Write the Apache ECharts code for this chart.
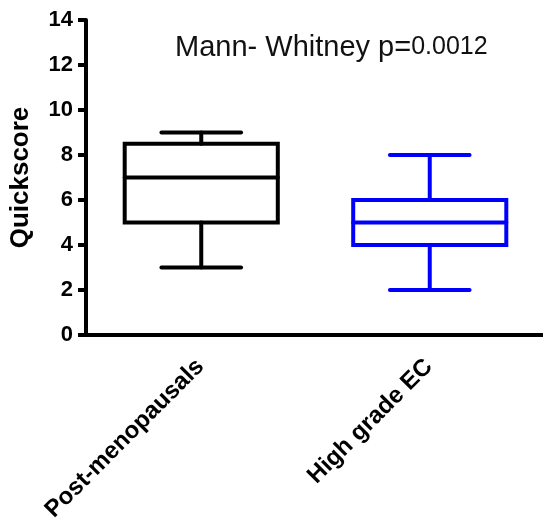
<!DOCTYPE html>
<html>
<head>
    <meta charset="utf-8">
    <title>Quickscore boxplot</title>
    <script src="https://cdn.jsdelivr.net/npm/echarts@6/dist/echarts.min.js"></script>
</head>
<body style="margin:0;background:#fff;">
    <div id="main" style="width: 543px;height:522px;"></div>
    <script type="text/javascript">
        // groups and five-number summaries
        var categories = ['Post-menopausals', 'High grade EC'];
        var boxMin    = [3, 2];
        var boxQ1     = [5, 4];
        var boxMedian = [7, 5];
        var boxQ3     = [8.5, 6];
        var boxMax    = [9, 8];
        var boxColors = ['#000000', '#0000ff'];

        var yTicks = [0, 2, 4, 6, 8, 10, 12, 14];

        var boxData = [];
        for (var i = 0; i < categories.length; i++) {
            boxData.push([i, boxMin[i], boxQ1[i], boxMedian[i], boxQ3[i], boxMax[i]]);
        }

        // box with short whisker caps (like GraphPad)
        function renderBox(params, api) {
            var idx = api.value(0);
            var lo = api.coord([idx, api.value(1)]);
            var q1 = api.coord([idx, api.value(2)]);
            var med = api.coord([idx, api.value(3)]);
            var q3 = api.coord([idx, api.value(4)]);
            var hi = api.coord([idx, api.value(5)]);
            var bw = api.size([1, 0])[0] * 0.67;
            var cw = bw * 0.52;
            var cx = lo[0] + 1;
            var st = { stroke: boxColors[idx], lineWidth: 4, fill: null, lineCap: 'round' };
            return {
                type: 'group',
                children: [
                    { type: 'rect', shape: { x: cx - bw / 2, y: q3[1], width: bw, height: q1[1] - q3[1] }, style: { stroke: boxColors[idx], lineWidth: 4, fill: null } },
                    { type: 'line', shape: { x1: cx - bw / 2, y1: med[1], x2: cx + bw / 2, y2: med[1] }, style: st },
                    { type: 'line', shape: { x1: cx, y1: q3[1], x2: cx, y2: hi[1] }, style: st },
                    { type: 'line', shape: { x1: cx, y1: q1[1], x2: cx, y2: lo[1] }, style: st },
                    { type: 'line', shape: { x1: cx - cw / 2, y1: hi[1], x2: cx + cw / 2, y2: hi[1] }, style: st },
                    { type: 'line', shape: { x1: cx - cw / 2, y1: lo[1], x2: cx + cw / 2, y2: lo[1] }, style: st }
                ]
            };
        }

        var option = {
            animation: false,
            backgroundColor: '#ffffff',
            title: {
                text: '{a|Mann- Whitney p=}{b|0.0012}',
                left: 170,
                top: 28,
                textStyle: {
                    fontWeight: 'normal',
                    rich: {
                        a: { fontFamily: 'Liberation Sans', fontWeight: 'normal', fontSize: 29, color: '#111' },
                        b: { fontFamily: 'Liberation Sans', fontWeight: 'normal', fontSize: 25, color: '#111' }
                    }
                }
            },
            grid: {
                left: 86,
                right: 0,
                top: 20,
                bottom: 187,
                containLabel: false,
                outerBoundsMode: 'none'
            },
            xAxis: {
                type: 'category',
                data: categories,
                boundaryGap: true,
                axisLine: { lineStyle: { color: '#000', width: 4 } },
                axisTick: { alignWithLabel: true, length: 10, lineStyle: { color: '#000', width: 4 } },
                axisLabel: {
                    rotate: 45,
                    margin: 28,
                    color: '#000',
                    fontFamily: 'Liberation Sans',
                    fontWeight: 'bold',
                    fontSize: 24
                },
                splitLine: { show: false }
            },
            yAxis: {
                type: 'value',
                min: yTicks[0],
                max: yTicks[yTicks.length - 1],
                interval: 2,
                name: 'Quickscore',
                nameLocation: 'middle',
                nameGap: 52,
                nameTextStyle: {
                    color: '#000',
                    fontFamily: 'Liberation Sans',
                    fontWeight: 'bold',
                    fontSize: 26
                },
                axisLine: { show: true, lineStyle: { color: '#000', width: 4 } },
                axisTick: { show: true, length: 8, lineStyle: { color: '#000', width: 4 } },
                axisLabel: {
                    margin: 13,
                    color: '#000',
                    fontFamily: 'Liberation Sans',
                    fontWeight: 'bold',
                    fontSize: 22
                },
                splitLine: { show: false }
            },
            series: [{
                type: 'custom',
                renderItem: renderBox,
                encode: { x: 0, y: [1, 2, 3, 4, 5] },
                data: boxData,
                clip: false
            }]
        };
        var myChart = echarts.init(document.getElementById('main'));
        myChart.setOption(option);
    </script>
</body>
</html>
